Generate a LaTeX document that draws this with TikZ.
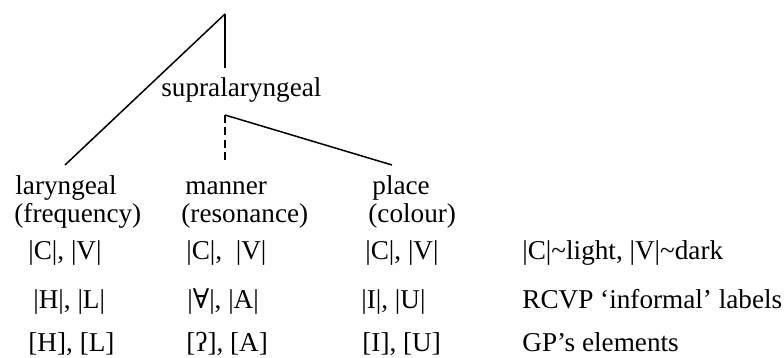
\documentclass[tikz,border=0pt]{standalone}
\usepackage{fontspec}
\setmainfont{Liberation Serif}
\newfontfamily\symfont{DejaVu Serif}
\begin{document}
\begin{tikzpicture}[x=0.5pt,y=-0.5pt,
  lbl/.style={anchor=base west,inner sep=0pt,font=\fontsize{13.6pt}{16pt}\selectfont},
  edge/.style={line width=0.75pt,black},
  dashedge/.style={edge,dash pattern=on 4pt off 2.2pt}]
\useasboundingbox (0,0) rectangle (784,358);
% tree coordinates
\coordinate (apex) at (225,14);
\coordinate (supTop) at (225,68);
\coordinate (supBot) at (225,115);
\coordinate (larTop) at (65,165);
\coordinate (manTop) at (225,162);
\coordinate (plaTop) at (392,165);
\node[lbl] (sup) at (161,97) {supralaryngeal};
\draw[edge] (apex) -- (supTop);
\draw[edge] (apex) -- (larTop);
\draw[dashedge] (supBot) -- (manTop);
\draw[edge] (supBot) -- (plaTop);
% laryngeal column
\node[lbl] (lar1) at (15,195) {laryngeal};
\node[lbl] (lar2) at (14,223) {(frequency)};
\node[lbl] (lar3) at (28,260) {|C|, |V|};
\node[lbl] (lar4) at (33,309) {|H|, |L|};
\node[lbl] (lar5) at (28,352) {[H], [L]};
% manner column
\node[lbl] (man1) at (185,195) {manner};
\node[lbl] (man2) at (181,223) {(resonance)};
\node[lbl] (man3) at (186,260) {|C|,\ \ |V|};
\node[lbl] (man4) at (187,309) {|{\symfont ∀}|, |A|};
\node[lbl] (man5) at (186,352) {[ʔ], [A]};
% place column
\node[lbl] (pla1) at (372,195) {place};
\node[lbl] (pla2) at (368,223) {(colour)};
\node[lbl] (pla3) at (365,260) {|C|, |V|};
\node[lbl] (pla4) at (361,309) {|I|, |U|};
\node[lbl] (pla5) at (362,352) {[I], [U]};
% right column
\node[lbl] (rc3) at (522,260) {|C|\textasciitilde light, |V|\textasciitilde dark};
\node[lbl] (rc4) at (522,309) {RCVP ‘informal’ labels};
\node[lbl] (rc5) at (522,352) {GP’s elements};
\end{tikzpicture}
\end{document}
